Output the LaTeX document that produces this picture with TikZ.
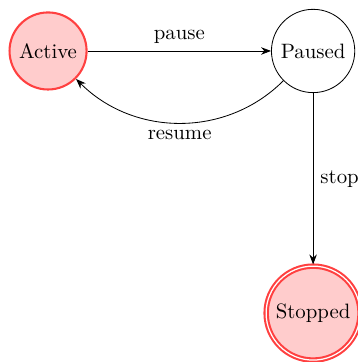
\documentclass[tikz,border=0pt]{standalone}
\usetikzlibrary{automata,arrows.meta,positioning}
\begin{document}
\begin{tikzpicture}[>=Stealth, x=1pt, y=1pt,
  hot/.style={state, draw=red!75, fill=red!20, line width=1pt},
  plain/.style={state, draw=black, fill=white},
  edge/.style={->}]
\useasboundingbox (-23.1,24.5) rectangle (148.5,-149.5);
\node[hot] (A) at (0,0) {Active};
\node[plain] (P) at (127.4,0) {Paused};
\node[hot, accepting] (S) at (127.4,-126) {Stopped};
\draw[edge] (A) -- node[above] {pause} (P);
\draw[edge] (P) to[out=225, in=-45] node[below] {resume} (A);
\draw[edge] (P) -- node[right] {stop} (S);
\end{tikzpicture}
\end{document}
